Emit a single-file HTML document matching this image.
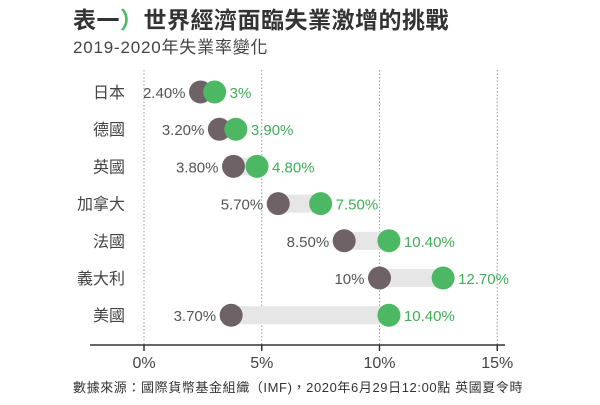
<!DOCTYPE html>
<html><head><meta charset="utf-8"><style>
body{margin:0;width:600px;height:400px;background:#fff;overflow:hidden;font-family:"Liberation Sans","Noto Sans CJK TC",sans-serif;}
svg text{font-family:"Liberation Sans","Noto Sans CJK TC",sans-serif;}
</style></head><body>
<svg id="c" width="600" height="400">
<text x="73" y="28" font-size="23" font-weight="bold" fill="#333" letter-spacing="0.5">表一<tspan fill="#4cb863">）</tspan>世界經濟面臨失業激增的挑戰</text>
<text x="73" y="53" font-size="17" fill="#444" letter-spacing="0.8">2019-2020年失業率變化</text>
<text x="73" y="392" font-size="13" fill="#333" letter-spacing="0.6">數據來源：國際貨幣基金組織（IMF)，2020年6月29日12:00點 英國夏令時</text>
</svg>
<script>
const categories=["日本","德國","英國","加拿大","法國","義大利","美國"];
const rate2019=[2.4,3.2,3.8,5.7,8.5,10,3.7];
const rate2020=[3,3.9,4.8,7.5,10.4,12.7,10.4];
const label2019=["2.40%","3.20%","3.80%","5.70%","8.50%","10%","3.70%"];
const label2020=["3%","3.90%","4.80%","7.50%","10.40%","12.70%","10.40%"];
const ticks=[0,5,10,15];
const tickLabels=["0%","5%","10%","15%"];
const NS="http://www.w3.org/2000/svg",svg=document.getElementById('c');
const x=v=>144+v*23.55, y=i=>92+i*37.2;
function mk(t,a,p){const e=document.createElementNS(NS,t);for(const k in a)e.setAttribute(k,a[k]);(p||svg).appendChild(e);return e;}
ticks.forEach((t,i)=>{
 const g=mk('line',{x1:x(t),x2:x(t),y1:70,y2:345,stroke:'#999','stroke-dasharray':'1.5,2','stroke-width':1});
 
 
 const tk=mk('line',{x1:x(t),x2:x(t),y1:345,y2:351,stroke:'#333','stroke-width':1.5});
 
 
 const tl=mk('text',{x:x(t),y:368,'font-size':16,'text-anchor':'middle',fill:'#444'});tl.textContent=tickLabels[i];
 
 
});
const ax=mk('line',{x1:90,x2:505,y1:345,y2:345,stroke:'#333','stroke-width':1.5});


categories.forEach((c,i)=>{
 const cy=y(i),a=x(rate2019[i]),b=x(rate2020[i]);
 const cl=mk('text',{x:125,y:cy+6,'font-size':16,'text-anchor':'end',fill:'#444'});cl.textContent=c;
 
 
 const bar=mk('rect',{x:a,y:cy-9,width:b-a,height:18,fill:'#e6e6e6'});
 
 
 const d1=mk('circle',{cx:a,cy:cy,r:11.5,fill:'#6e6266'});
 
 
 const d2=mk('circle',{cx:b,cy:cy,r:11.5,fill:'#4cb863'});
 
 
 const t1=mk('text',{x:a-15,y:cy+6,'font-size':15,'text-anchor':'end',fill:'#555'});t1.textContent=label2019[i];
 
 
 const t2=mk('text',{x:b+15,y:cy+6,'font-size':15,fill:'#3fae57'});t2.textContent=label2020[i];
 
 
});
</script>
</body></html>
